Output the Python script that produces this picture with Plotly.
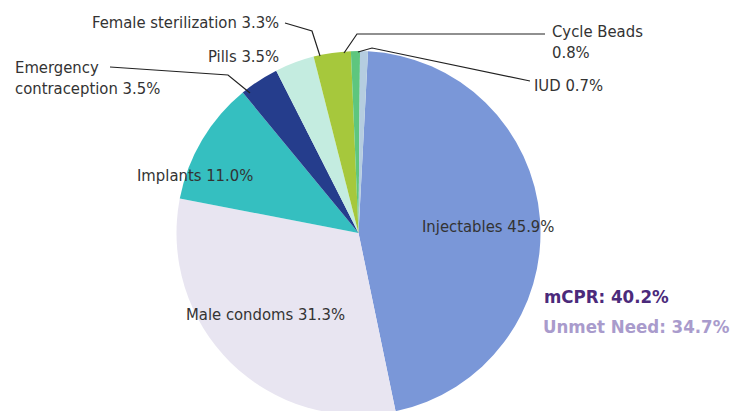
import plotly.graph_objects as go

methods = ["Injectables", "Male condoms", "Implants", "Emergency contraception",
           "Pills", "Female sterilization", "Cycle Beads", "IUD"]
shares = [45.9, 31.3, 11.0, 3.5, 3.5, 3.3, 0.8, 0.7]
colors = ["#7a97d8", "#e8e5f1", "#35bfc0", "#253d8c",
          "#c4ece0", "#a6c83c", "#5ec67e", "#b5cde0"]
mcpr = 40.2
unmet = 34.7

W, H = 747, 420
FONT = "DejaVu Sans Condensed, Liberation Sans Narrow, sans-serif"


def px(x):
    return x / W


def py(y):
    return 1 - y / H


fig = go.Figure(go.Pie(
    labels=methods, values=shares, sort=False, direction="clockwise",
    rotation=3, textinfo="none", hoverinfo="label+value",
    marker=dict(colors=colors, line=dict(width=0)),
    domain=dict(x=[px(176.5), px(540.5)], y=[py(415), py(51)]),
    showlegend=False,
))

def lab(i):
    return f"{shares[i]:.1f}%"

# label placements (pixel positions of text)
labels = [
    (488, 226, f"{methods[0]} {lab(0)}", "center", "middle"),
    (265, 314, f"{methods[1]} {lab(1)}", "center", "middle"),
    (195, 175, f"{methods[2]} {lab(2)}", "center", "middle"),
    (13, 78, "Emergency<br>contraception " + lab(3), "left", "middle"),
    (281, 57, f"{methods[4]} {lab(4)}", "right", "middle"),
    (281, 22, f"{methods[5]} {lab(5)}", "right", "middle"),
    (550, 42, "Cycle Beads<br>" + lab(6), "left", "middle"),
    (532, 86, f"{methods[7]} {lab(7)}", "left", "middle"),
]
for x, y, t, xa, ya in labels:
    fig.add_annotation(x=px(x), y=py(y), xref="paper", yref="paper", text=t,
                       showarrow=False, xanchor=xa, yanchor=ya, align="left",
                       font=dict(size=16.5, color="#333333", family=FONT))

# leader lines
leaders = [
    [(110, 67), (228, 75), (250, 93)],
    [(285, 23), (312, 31), (320, 56)],
    [(545, 34), (357, 34), (344, 53)],
    [(530, 81), (372, 48), (358, 52)],
]
for pts in leaders:
    path = "M " + " L ".join(f"{px(a)},{py(b)}" for a, b in pts)
    fig.add_shape(type="path", path=path, xref="paper", yref="paper",
                  line=dict(color="#222222", width=1.2))

fig.add_annotation(x=px(542), y=py(296), xref="paper", yref="paper",
                   text=f"<b>mCPR: {mcpr}%</b>", showarrow=False,
                   xanchor="left", yanchor="middle",
                   font=dict(size=18.5, color="#4b2a7b", family=FONT))
fig.add_annotation(x=px(541), y=py(326), xref="paper", yref="paper",
                   text=f"<b>Unmet Need: {unmet}%</b>", showarrow=False,
                   xanchor="left", yanchor="middle",
                   font=dict(size=18.5, color="#a99bcc", family=FONT))

fig.update_layout(width=W, height=H, margin=dict(l=0, r=0, t=0, b=0),
                  paper_bgcolor="white", plot_bgcolor="white")

fig.write_html("out.html", config={"displayModeBar": False}, post_script=(
    "document.documentElement.style.overflow='hidden';"
    "document.body.style.overflow='hidden';document.body.style.margin='0';"))
